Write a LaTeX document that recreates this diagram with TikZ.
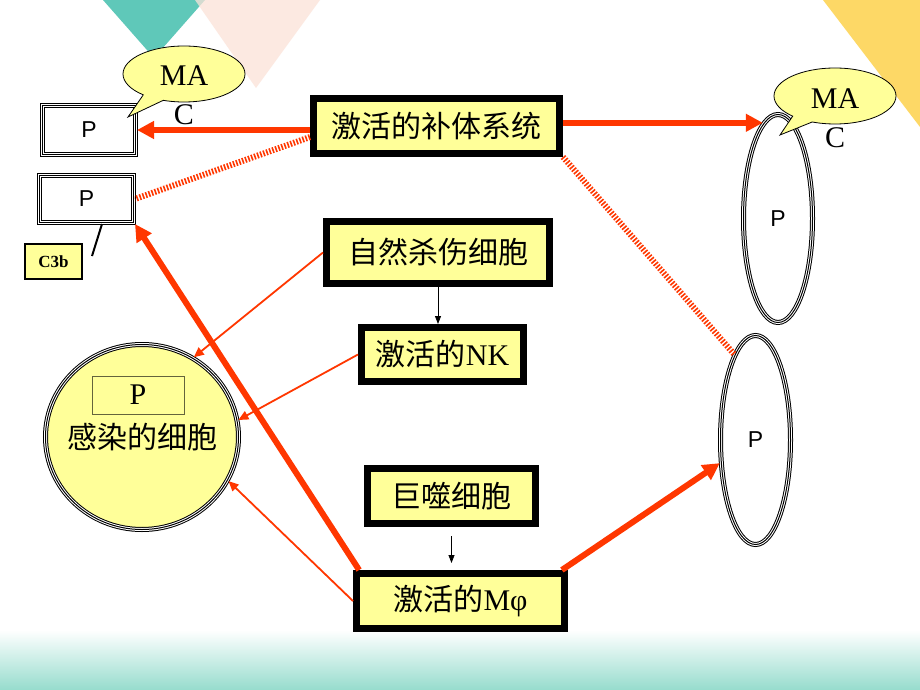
\documentclass[tikz,border=0pt]{standalone}
\usepackage{fontspec}
\setmainfont{Liberation Serif}
\newfontfamily\cjk{Noto Sans CJK SC}
\newfontfamily\arialfont{Liberation Sans}
\usetikzlibrary{shapes.geometric,shapes.callouts,arrows.meta}
\definecolor{cellyellow}{RGB}{255,255,153}
\definecolor{arrred}{RGB}{255,55,0}
\definecolor{tealtri}{RGB}{95,200,185}
\definecolor{pinktri}{RGB}{251,226,216}
\definecolor{goldtri}{RGB}{253,216,102}
\definecolor{seafoam}{RGB}{150,220,205}
\definecolor{olivebox}{RGB}{100,100,60}
\tikzset{
  cellbox/.style={draw=black, line width=7pt, fill=cellyellow, inner sep=0pt, font=\cjk\fontsize{30}{36}\selectfont},
  tripleline/.style={draw=white, line width=3pt, preaction={draw=black, line width=5pt, fill=#1}, postaction={draw=black, line width=1pt}},
  tripleline/.default=white,
  bigarrow/.style={draw=arrred, line width=6pt, -{Triangle[length=17pt,width=17pt]}},
  thinarrow/.style={draw=arrred, line width=1.8pt, -{Triangle[length=10pt,width=9pt]}},
  blackarrow/.style={draw=black, line width=0.8pt, -{Triangle[length=8pt,width=6pt]}},
  hatchline/.style={draw=arrred, line width=6pt, dash pattern=on 1.6pt off 1.6pt},
  macbubble/.style={ellipse callout, draw=black, line width=0.8pt, fill=cellyellow, minimum width=122pt, minimum height=56pt, callout pointer arc=22},
  mactext/.style={align=center, font=\fontsize{30}{39}\selectfont},
  ptext/.style={font=\arialfont\fontsize{23}{27}\selectfont}
}
\begin{document}
\begin{tikzpicture}[x=1pt, y=-1pt]
  \useasboundingbox (0,0) rectangle (920,690);
  % background
  \fill[white] (0,0) rectangle (920,690);
  \fill[tealtri] (103,0) -- (205,0) -- (154,58) -- cycle;
  \fill[pinktri, opacity=0.75] (195,0) -- (320,0) -- (256,88) -- cycle;
  \fill[goldtri] (823,0) -- (920,0) -- (920,127) -- cycle;
  \shade[top color=white, bottom color=seafoam] (0,630) rectangle (920,690);

  % cells and boxes
  \node[cellbox, minimum width=246pt, minimum height=55pt] (sys) at (436.5,126) {激活的补体系统};
  \node[cellbox, minimum width=223pt, minimum height=62pt] (nkc) at (438,252.5) {自然杀伤细胞};
  \node[cellbox, minimum width=162pt, minimum height=54pt] (nka) at (442.5,354.5) {激活的{\rmfamily NK}};
  \node[cellbox, minimum width=168pt, minimum height=55pt] (mac) at (451.5,496) {巨噬细胞};
  \node[cellbox, minimum width=208pt, minimum height=55pt] (mphi) at (460.5,601) {激活的{\rmfamily Mφ}};

  % pathogens on the left
  \node[tripleline, ptext, minimum width=93pt, minimum height=49pt] (pbox1) at (89,130) {P};
  \node[tripleline, ptext, minimum width=94pt, minimum height=47pt] (pbox2) at (86.5,199) {P};
  \node[draw=black, line width=2pt, fill=cellyellow, minimum width=57pt, minimum height=35pt, inner sep=0pt, font=\bfseries\fontsize{17}{19}\selectfont] (c3b) at (53.5,261.5) {C3b};
  \coordinate (c3btip) at (92,256);
  \coordinate (c3bend) at (102,224);
  \draw[line width=2pt] (c3btip) -- (c3bend);

  % infected cell
  \node[ellipse, tripleline=cellyellow, minimum width=193pt, minimum height=185pt] (inf) at (142,437) {};
  \node[draw=olivebox, line width=1pt, minimum width=92pt, minimum height=38pt, inner sep=0pt, font=\fontsize{30}{36}\selectfont] (infp) at (138,395) {P};
  \node[font=\cjk\fontsize{30}{36}\selectfont] (inftxt) at (142,437) {感染的细胞};

  % pathogens on the right
  \node[ellipse, tripleline, ptext, minimum width=69pt, minimum height=208pt] (ell1) at (778,218.5) {P};
  \node[ellipse, tripleline, ptext, minimum width=70pt, minimum height=209pt] (ell2) at (755.5,440) {P};

  % connectors
  \draw[bigarrow] (sys.west |- pbox1.east) -- (pbox1.east);
  \draw[bigarrow] (sys.east |- ell1.99) -- (ell1.99);
  \draw[hatchline] (sys.185) -- (pbox2.east);
  \draw[hatchline] (sys.south east) -- (ell2.104);
  \draw[blackarrow] (nkc.south) -- (nkc.south |- nka.north);
  \draw[blackarrow, shorten <=9pt, shorten >=7pt] (mac.south) -- (mac.south |- mphi.north);
  \draw[thinarrow] (nkc.west) -- (inf.57);
  \draw[thinarrow] (nka.west) -- (inf.10);
  \draw[thinarrow] (mphi.west) -- (inf.-27);
  \draw[bigarrow] (mphi.163) -- (pbox2.south east);
  \draw[bigarrow] (mphi.17) -- (ell2.213);

  % MAC bubbles
  \node[macbubble, callout absolute pointer={(128,117)}] (macL) at (184,74) {};
  \node[mactext] (macLtxt) at (184,95) {MA\\C};
  \node[macbubble, callout absolute pointer={(780,135)}] (macR) at (835,96) {};
  \node[mactext] (macRtxt) at (835,118) {MA\\C};
\end{tikzpicture}
\end{document}
